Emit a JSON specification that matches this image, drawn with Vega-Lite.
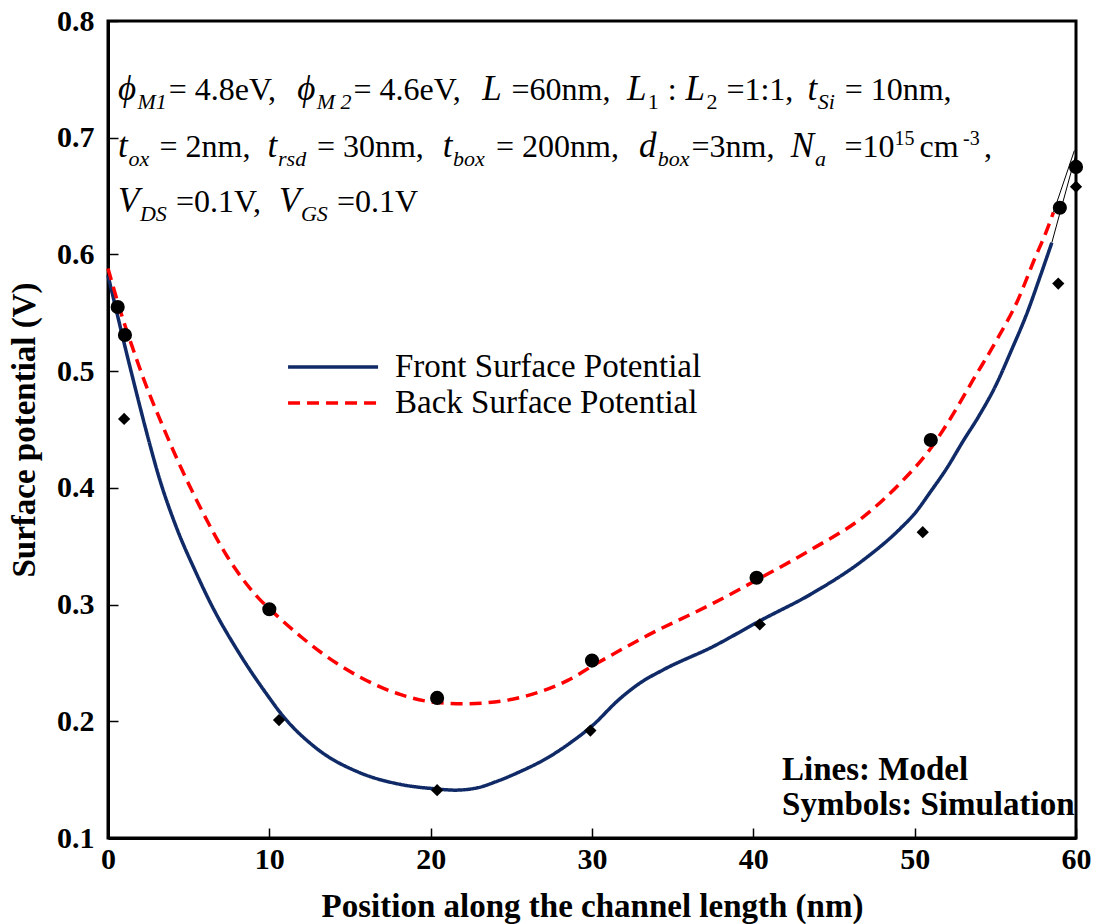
{
  "$schema": "https://vega.github.io/schema/vega-lite/v6.json",
  "width": 968,
  "height": 817,
  "autosize": "none",
  "padding": {"left": 108, "top": 21, "right": 23, "bottom": 86},
  "background": "white",
  "datasets": {
    "curves": [
      {"x": 0, "y": 0.582, "series": "Front Surface Potential"},
      {"x": 0.5, "y": 0.553, "series": "Front Surface Potential"},
      {"x": 1.0, "y": 0.524, "series": "Front Surface Potential"},
      {"x": 1.5, "y": 0.496, "series": "Front Surface Potential"},
      {"x": 2.5, "y": 0.442, "series": "Front Surface Potential"},
      {"x": 3.1, "y": 0.412, "series": "Front Surface Potential"},
      {"x": 4.3, "y": 0.364, "series": "Front Surface Potential"},
      {"x": 5.4, "y": 0.329, "series": "Front Surface Potential"},
      {"x": 6.4, "y": 0.3, "series": "Front Surface Potential"},
      {"x": 8.1, "y": 0.259, "series": "Front Surface Potential"},
      {"x": 9.9, "y": 0.222, "series": "Front Surface Potential"},
      {"x": 10.7, "y": 0.207, "series": "Front Surface Potential"},
      {"x": 13.0, "y": 0.176, "series": "Front Surface Potential"},
      {"x": 15.6, "y": 0.156, "series": "Front Surface Potential"},
      {"x": 18.1, "y": 0.146, "series": "Front Surface Potential"},
      {"x": 20.4, "y": 0.142, "series": "Front Surface Potential"},
      {"x": 21.5, "y": 0.141, "series": "Front Surface Potential"},
      {"x": 22.9, "y": 0.143, "series": "Front Surface Potential"},
      {"x": 24.0, "y": 0.148, "series": "Front Surface Potential"},
      {"x": 25.4, "y": 0.156, "series": "Front Surface Potential"},
      {"x": 27.4, "y": 0.17, "series": "Front Surface Potential"},
      {"x": 28.7, "y": 0.182, "series": "Front Surface Potential"},
      {"x": 30.0, "y": 0.196, "series": "Front Surface Potential"},
      {"x": 31.7, "y": 0.219, "series": "Front Surface Potential"},
      {"x": 33.0, "y": 0.233, "series": "Front Surface Potential"},
      {"x": 34.4, "y": 0.244, "series": "Front Surface Potential"},
      {"x": 37.5, "y": 0.264, "series": "Front Surface Potential"},
      {"x": 40.4, "y": 0.286, "series": "Front Surface Potential"},
      {"x": 43.7, "y": 0.31, "series": "Front Surface Potential"},
      {"x": 46.8, "y": 0.338, "series": "Front Surface Potential"},
      {"x": 49.1, "y": 0.365, "series": "Front Surface Potential"},
      {"x": 50.0, "y": 0.378, "series": "Front Surface Potential"},
      {"x": 51.0, "y": 0.397, "series": "Front Surface Potential"},
      {"x": 52.0, "y": 0.417, "series": "Front Surface Potential"},
      {"x": 53.0, "y": 0.44, "series": "Front Surface Potential"},
      {"x": 54.0, "y": 0.462, "series": "Front Surface Potential"},
      {"x": 55.0, "y": 0.487, "series": "Front Surface Potential"},
      {"x": 56.0, "y": 0.518, "series": "Front Surface Potential"},
      {"x": 57.0, "y": 0.551, "series": "Front Surface Potential"},
      {"x": 57.8, "y": 0.582, "series": "Front Surface Potential"},
      {"x": 58.5, "y": 0.61, "series": "Front Surface Potential"},
      {"x": 0, "y": 0.588, "series": "Back Surface Potential"},
      {"x": 0.87, "y": 0.547, "series": "Back Surface Potential"},
      {"x": 1.5, "y": 0.521, "series": "Back Surface Potential"},
      {"x": 2.3, "y": 0.49, "series": "Back Surface Potential"},
      {"x": 3.3, "y": 0.456, "series": "Back Surface Potential"},
      {"x": 4.6, "y": 0.415, "series": "Back Surface Potential"},
      {"x": 5.8, "y": 0.381, "series": "Back Surface Potential"},
      {"x": 7.4, "y": 0.341, "series": "Back Surface Potential"},
      {"x": 9.3, "y": 0.306, "series": "Back Surface Potential"},
      {"x": 10.35, "y": 0.292, "series": "Back Surface Potential"},
      {"x": 12.0, "y": 0.272, "series": "Back Surface Potential"},
      {"x": 13.3, "y": 0.258, "series": "Back Surface Potential"},
      {"x": 15.6, "y": 0.238, "series": "Back Surface Potential"},
      {"x": 18.1, "y": 0.223, "series": "Back Surface Potential"},
      {"x": 20.4, "y": 0.216, "series": "Back Surface Potential"},
      {"x": 22.0, "y": 0.215, "series": "Back Surface Potential"},
      {"x": 23.6, "y": 0.216, "series": "Back Surface Potential"},
      {"x": 26.0, "y": 0.222, "series": "Back Surface Potential"},
      {"x": 28.5, "y": 0.235, "series": "Back Surface Potential"},
      {"x": 30.1, "y": 0.248, "series": "Back Surface Potential"},
      {"x": 33.5, "y": 0.274, "series": "Back Surface Potential"},
      {"x": 37.5, "y": 0.301, "series": "Back Surface Potential"},
      {"x": 40.2, "y": 0.321, "series": "Back Surface Potential"},
      {"x": 43.7, "y": 0.348, "series": "Back Surface Potential"},
      {"x": 46.8, "y": 0.375, "series": "Back Surface Potential"},
      {"x": 49.1, "y": 0.404, "series": "Back Surface Potential"},
      {"x": 51.0, "y": 0.434, "series": "Back Surface Potential"},
      {"x": 52.2, "y": 0.459, "series": "Back Surface Potential"},
      {"x": 53.6, "y": 0.492, "series": "Back Surface Potential"},
      {"x": 55.1, "y": 0.527, "series": "Back Surface Potential"},
      {"x": 56.4, "y": 0.561, "series": "Back Surface Potential"},
      {"x": 57.4, "y": 0.595, "series": "Back Surface Potential"},
      {"x": 58.2, "y": 0.621, "series": "Back Surface Potential"},
      {"x": 58.6, "y": 0.636, "series": "Back Surface Potential"}
    ],
    "ext": [
      {"x": 58.5, "y": 0.61, "seg": "front"},
      {"x": 60.0, "y": 0.686, "seg": "front"},
      {"x": 58.6, "y": 0.636, "seg": "back"},
      {"x": 59.9, "y": 0.689, "seg": "back"}
    ],
    "sim": [
      {"x": 0.6, "y": 0.555, "kind": "Back"},
      {"x": 1.05, "y": 0.531, "kind": "Back"},
      {"x": 10.0, "y": 0.296, "kind": "Back"},
      {"x": 20.4, "y": 0.22, "kind": "Back"},
      {"x": 30.0, "y": 0.252, "kind": "Back"},
      {"x": 40.2, "y": 0.323, "kind": "Back"},
      {"x": 51.0, "y": 0.441, "kind": "Back"},
      {"x": 59.0, "y": 0.64, "kind": "Back"},
      {"x": 60.0, "y": 0.675, "kind": "Back"},
      {"x": 1.0, "y": 0.459, "kind": "Front"},
      {"x": 10.6, "y": 0.201, "kind": "Front"},
      {"x": 20.4, "y": 0.141, "kind": "Front"},
      {"x": 29.9, "y": 0.192, "kind": "Front"},
      {"x": 40.4, "y": 0.283, "kind": "Front"},
      {"x": 50.5, "y": 0.362, "kind": "Front"},
      {"x": 58.9, "y": 0.575, "kind": "Front"},
      {"x": 60.0, "y": 0.658, "kind": "Front"}
    ],
    "legendrows": [
      {"x": 11.16, "x2": 16.74, "tx": 17.79, "y": 0.5035, "series": "Front Surface Potential"},
      {"x": 11.16, "x2": 16.74, "tx": 17.79, "y": 0.4727, "series": "Back Surface Potential"}
    ],
    "notes": [
      {"t": "ϕ", "x": 0.62, "y": 0.732, "k": "it"},
      {"t": "M1", "x": 1.83, "y": 0.725, "k": "sub"},
      {"t": "= 4.8eV,", "x": 3.76, "y": 0.732, "k": "rm"},
      {"t": "ϕ", "x": 11.73, "y": 0.732, "k": "it"},
      {"t": "M 2", "x": 12.94, "y": 0.725, "k": "sub"},
      {"t": "= 4.6eV,", "x": 15.22, "y": 0.732, "k": "rm"},
      {"t": "L", "x": 23.19, "y": 0.732, "k": "it"},
      {"t": "=60nm,", "x": 25.01, "y": 0.732, "k": "rm"},
      {"t": "L", "x": 32.17, "y": 0.732, "k": "it"},
      {"t": "1", "x": 33.45, "y": 0.725, "k": "subrm"},
      {"t": ":", "x": 34.7, "y": 0.732, "k": "rm"},
      {"t": "L", "x": 35.8, "y": 0.732, "k": "it"},
      {"t": "2", "x": 37.09, "y": 0.725, "k": "subrm"},
      {"t": "=1:1,", "x": 38.33, "y": 0.732, "k": "rm"},
      {"t": "t", "x": 43.35, "y": 0.732, "k": "it"},
      {"t": "Si", "x": 43.99, "y": 0.725, "k": "sub"},
      {"t": "= 10nm,", "x": 45.66, "y": 0.732, "k": "rm"},
      {"t": "t", "x": 0.62, "y": 0.6835, "k": "it"},
      {"t": "ox", "x": 1.27, "y": 0.676, "k": "sub"},
      {"t": "= 2nm,", "x": 3.19, "y": 0.6835, "k": "rm"},
      {"t": "t", "x": 9.89, "y": 0.6835, "k": "it"},
      {"t": "rsd", "x": 10.54, "y": 0.676, "k": "sub"},
      {"t": "= 30nm,", "x": 12.95, "y": 0.6835, "k": "rm"},
      {"t": "t", "x": 20.75, "y": 0.6835, "k": "it"},
      {"t": "box", "x": 21.38, "y": 0.676, "k": "sub"},
      {"t": "= 200nm,", "x": 24.05, "y": 0.6835, "k": "rm"},
      {"t": "d", "x": 32.91, "y": 0.6835, "k": "it"},
      {"t": "box", "x": 34.07, "y": 0.676, "k": "sub"},
      {"t": "=3nm,", "x": 36.17, "y": 0.6835, "k": "rm"},
      {"t": "N", "x": 42.32, "y": 0.6835, "k": "it"},
      {"t": "a", "x": 43.82, "y": 0.676, "k": "sub"},
      {"t": "=10", "x": 45.65, "y": 0.6835, "k": "rm"},
      {"t": "15", "x": 48.75, "y": 0.694, "k": "sup"},
      {"t": "cm", "x": 50.3, "y": 0.6835, "k": "rm"},
      {"t": "-3", "x": 53.0, "y": 0.694, "k": "sup"},
      {"t": ",", "x": 54.3, "y": 0.6835, "k": "rm"},
      {"t": "V", "x": 0.62, "y": 0.636, "k": "it"},
      {"t": "DS", "x": 1.98, "y": 0.629, "k": "sub"},
      {"t": "=0.1V,", "x": 4.21, "y": 0.636, "k": "rm"},
      {"t": "V", "x": 10.6, "y": 0.636, "k": "it"},
      {"t": "GS", "x": 11.96, "y": 0.629, "k": "sub"},
      {"t": "=0.1V", "x": 14.19, "y": 0.636, "k": "rm"}
    ],
    "boldnotes": [
      {"t": "Lines: Model", "x": 41.78, "y": 0.1496},
      {"t": "Symbols: Simulation", "x": 41.78, "y": 0.1196}
    ]
  },
  "layer": [
    {
      "data": {"name": "curves"},
      "mark": {"type": "line", "strokeWidth": 3.5, "interpolate": "monotone"},
      "encoding": {
        "x": {
          "field": "x", "type": "quantitative",
          "scale": {"domain": [0, 60], "nice": false, "zero": false},
          "axis": {
            "title": "Position along the channel length (nm)",
            "values": [0, 10, 20, 30, 40, 50, 60],
            "format": "d",
            "labelPadding": 16,
            "titlePadding": 16
          }
        },
        "y": {
          "field": "y", "type": "quantitative",
          "scale": {"domain": [0.1, 0.8], "nice": false, "zero": false},
          "axis": {
            "title": "Surface potential (V)",
            "values": [0.1, 0.2, 0.3, 0.4, 0.5, 0.6, 0.7, 0.8],
            "format": ".1f",
            "labelPadding": 24,
            "titlePadding": 15
          }
        },
        "color": {
          "field": "series", "type": "nominal",
          "scale": {"domain": ["Front Surface Potential", "Back Surface Potential"], "range": ["#0f2a66", "#ff0000"]},
          "legend": null
        },
        "strokeDash": {
          "field": "series", "type": "nominal",
          "scale": {"domain": ["Front Surface Potential", "Back Surface Potential"], "range": [[1, 0], [12, 7]]},
          "legend": null
        }
      }
    },
    {
      "data": {"name": "ext"},
      "mark": {"type": "line", "strokeWidth": 1, "color": "black"},
      "encoding": {
        "x": {"field": "x", "type": "quantitative"},
        "y": {"field": "y", "type": "quantitative"},
        "detail": {"field": "seg", "type": "nominal"}
      }
    },
    {
      "data": {"name": "sim"},
      "transform": [{"filter": "datum.kind === 'Back'"}],
      "mark": {"type": "point", "shape": "circle", "filled": true, "color": "black", "opacity": 1, "size": 200},
      "encoding": {
        "x": {"field": "x", "type": "quantitative"},
        "y": {"field": "y", "type": "quantitative"}
      }
    },
    {
      "data": {"name": "sim"},
      "transform": [{"filter": "datum.kind === 'Front'"}],
      "mark": {"type": "point", "shape": "diamond", "filled": true, "color": "black", "opacity": 1, "size": 150},
      "encoding": {
        "x": {"field": "x", "type": "quantitative"},
        "y": {"field": "y", "type": "quantitative"}
      }
    },
    {
      "data": {"name": "legendrows"},
      "mark": {"type": "rule", "strokeWidth": 3.5},
      "encoding": {
        "x": {"field": "x", "type": "quantitative"},
        "x2": {"field": "x2"},
        "y": {"field": "y", "type": "quantitative"},
        "color": {"field": "series", "type": "nominal", "legend": null},
        "strokeDash": {"field": "series", "type": "nominal", "legend": null}
      }
    },
    {
      "data": {"name": "legendrows"},
      "mark": {"type": "text", "align": "left", "baseline": "middle", "font": "Liberation Serif", "fontSize": 33, "color": "black"},
      "encoding": {
        "x": {"field": "tx", "type": "quantitative"},
        "y": {"field": "y", "type": "quantitative"},
        "text": {"field": "series"}
      }
    },
    {
      "data": {"name": "notes"},
      "transform": [{"filter": "datum.k === 'rm'"}],
      "mark": {"type": "text", "align": "left", "baseline": "alphabetic", "font": "Liberation Serif", "fontSize": 32, "color": "black"},
      "encoding": {
        "x": {"field": "x", "type": "quantitative"},
        "y": {"field": "y", "type": "quantitative"},
        "text": {"field": "t"}
      }
    },
    {
      "data": {"name": "notes"},
      "transform": [{"filter": "datum.k === 'it'"}],
      "mark": {"type": "text", "align": "left", "baseline": "alphabetic", "font": "Liberation Serif", "fontStyle": "italic", "fontSize": 35, "color": "black"},
      "encoding": {
        "x": {"field": "x", "type": "quantitative"},
        "y": {"field": "y", "type": "quantitative"},
        "text": {"field": "t"}
      }
    },
    {
      "data": {"name": "notes"},
      "transform": [{"filter": "datum.k === 'sub'"}],
      "mark": {"type": "text", "align": "left", "baseline": "alphabetic", "font": "Liberation Serif", "fontStyle": "italic", "fontSize": 22, "color": "black"},
      "encoding": {
        "x": {"field": "x", "type": "quantitative"},
        "y": {"field": "y", "type": "quantitative"},
        "text": {"field": "t"}
      }
    },
    {
      "data": {"name": "notes"},
      "transform": [{"filter": "datum.k === 'subrm'"}],
      "mark": {"type": "text", "align": "left", "baseline": "alphabetic", "font": "Liberation Serif", "fontSize": 22, "color": "black"},
      "encoding": {
        "x": {"field": "x", "type": "quantitative"},
        "y": {"field": "y", "type": "quantitative"},
        "text": {"field": "t"}
      }
    },
    {
      "data": {"name": "notes"},
      "transform": [{"filter": "datum.k === 'sup'"}],
      "mark": {"type": "text", "align": "left", "baseline": "alphabetic", "font": "Liberation Serif", "fontSize": 20, "color": "black"},
      "encoding": {
        "x": {"field": "x", "type": "quantitative"},
        "y": {"field": "y", "type": "quantitative"},
        "text": {"field": "t"}
      }
    },
    {
      "data": {"name": "boldnotes"},
      "mark": {"type": "text", "align": "left", "baseline": "alphabetic", "font": "Liberation Serif", "fontWeight": "bold", "fontSize": 33, "color": "black"},
      "encoding": {
        "x": {"field": "x", "type": "quantitative"},
        "y": {"field": "y", "type": "quantitative"},
        "text": {"field": "t"}
      }
    }
  ],
  "config": {
    "view": {"stroke": "black", "strokeWidth": 3},
    "font": "Liberation Serif",
    "axis": {
      "grid": false,
      "domain": true,
      "domainColor": "black",
      "domainWidth": 3,
      "ticks": true,
      "tickColor": "black",
      "tickWidth": 1.5,
      "tickSize": -10,
      "labelFont": "Liberation Serif",
      "labelFontWeight": "bold",
      "labelFontSize": 30,
      "labelColor": "black",
      "labelFlush": false,
      "labelOverlap": false,
      "titleFont": "Liberation Serif",
      "titleFontWeight": "bold",
      "titleFontSize": 33,
      "titleColor": "black"
    }
  }
}
